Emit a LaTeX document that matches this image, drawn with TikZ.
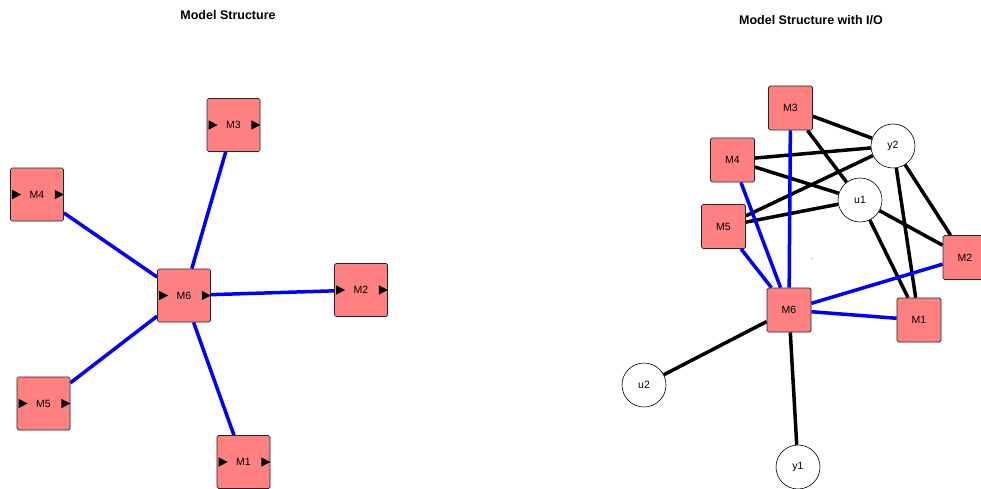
\documentclass[tikz,border=0pt]{standalone}
\usepackage{fontspec}
\setmainfont{Liberation Sans}
\usetikzlibrary{backgrounds}
\definecolor{salmon}{RGB}{255,128,128}

\begin{document}
\begin{tikzpicture}[
    x=1pt, y=-1pt,
    block/.style={rectangle, draw=black!85, line width=0.7pt, fill=salmon, rounded corners=1.5pt, minimum size=53pt, inner sep=0pt, font=\fontsize{10.5}{12}\selectfont},
    small/.style={block, minimum size=44pt},
    sig/.style={circle, draw=black, line width=0.6pt, fill=white, minimum size=44pt, inner sep=0pt, font=\fontsize{10.5}{12}\selectfont},
    link/.style={line width=3.5pt, blue},
    io/.style={line width=3.5pt, black},
    title/.style={font=\fontsize{12.5}{15}\selectfont\bfseries}
]
    \useasboundingbox (0,0) rectangle (981,489);

    % Titles
    \node[title] (tleft) at (228,15.5) {Model Structure};
    \node[title] (tright) at (811,20.5) {Model Structure with I/O};

    % Model structure
    \node[block] (M3) at (233.5,125) {M3};
    \node[block] (M4) at (37,194.5) {M4};
    \node[block] (M6) at (184,295.5) {M6};
    \node[block] (M2) at (361,290) {M2};
    \node[block] (M5) at (43.5,403.5) {M5};
    \node[block] (M1) at (243.5,462) {M1};

    % Port arrows
    \foreach \n in {M1,M2,M3,M4,M5,M6} {
        \fill ([shift={(2,-4.6)}]\n.west) -- ++(9,4.6) -- ++(-9,4.6) -- cycle;
        \fill ([shift={(-9,-4.6)}]\n.east) -- ++(9,4.6) -- ++(-9,4.6) -- cycle;
    }

    \begin{scope}[on background layer]
        \foreach \n in {M1,M2,M3,M4,M5} \draw[link] (M6) -- (\n);
    \end{scope}

    % Model structure with I/O
    \node[small] (rM3) at (790.5,108) {M3};
    \node[small] (rM4) at (732.5,160) {M4};
    \node[small] (rM5) at (723.5,226.5) {M5};
    \node[small] (rM2) at (965,257.5) {M2};
    \node[small] (rM6) at (789,310) {M6};
    \node[small] (rM1) at (919,320) {M1};
    \node[sig] (y2) at (893,146) {y2};
    \node[sig] (u1) at (860,200) {u1};
    \node[sig] (u2) at (644,385) {u2};
    \node[sig] (y1) at (798,467) {y1};
    \fill[gray!50] (811,257.5) rectangle (813,259);

    \begin{scope}[on background layer]
        \foreach \a/\b in {rM3/y2, rM3/u1, rM4/y2, rM4/u1, rM5/y2, rM5/u1,
                           u1/rM2, u1/rM1, y2/rM2, y2/rM1, rM6/u2, rM6/y1}
            \draw[io] (\a) -- (\b);
        \foreach \n in {rM1,rM2,rM3,rM4,rM5} \draw[link] (rM6) -- (\n);
    \end{scope}
\end{tikzpicture}
\end{document}
